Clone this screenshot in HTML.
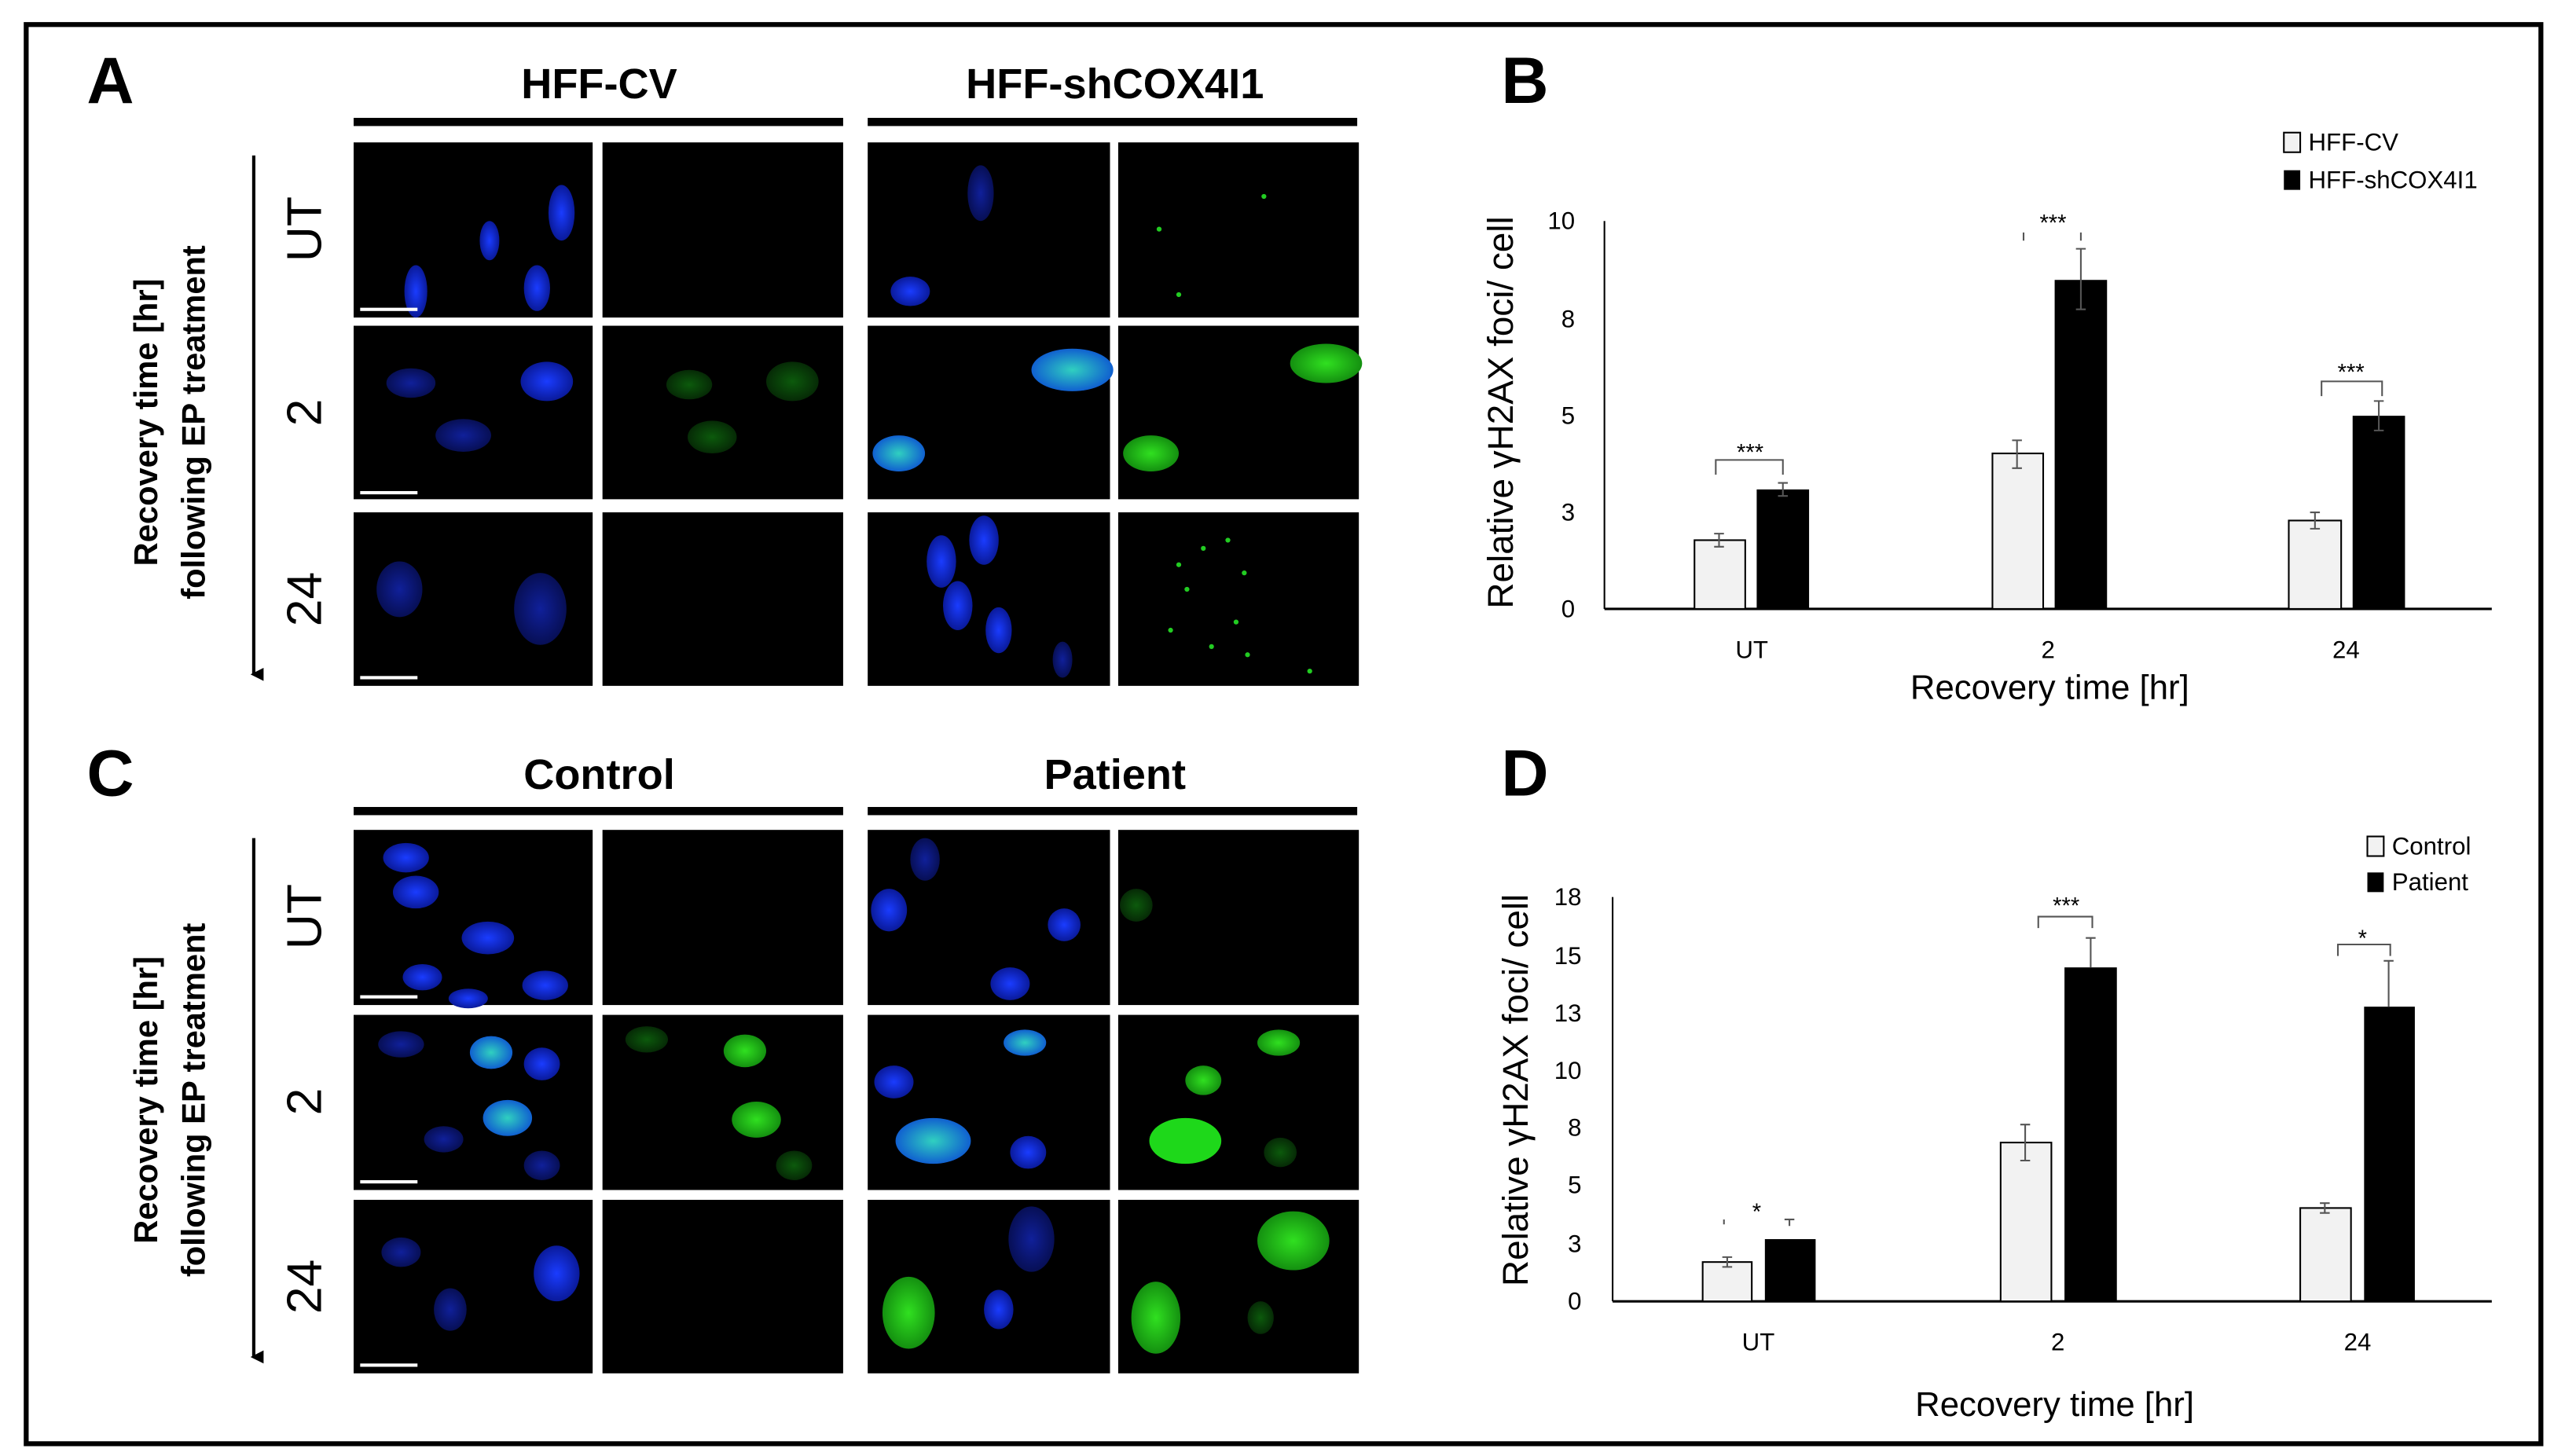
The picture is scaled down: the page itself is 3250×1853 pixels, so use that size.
<!DOCTYPE html>
<html><head><meta charset="utf-8"><style>
html,body{margin:0;padding:0;background:#fff;width:3250px;height:1853px;overflow:hidden}
svg{display:block}
text{font-family:"Liberation Sans",sans-serif}
</style></head><body>
<svg width="3250" height="1853" viewBox="0 0 1560 889.5" preserveAspectRatio="none" xmlns="http://www.w3.org/2000/svg">
<defs>
<radialGradient id="bl"><stop offset="0" stop-color="#1a3cff"/><stop offset="1" stop-color="#0a1a9a"/></radialGradient>
<radialGradient id="dbl"><stop offset="0" stop-color="#10209a"/><stop offset="1" stop-color="#070f55"/></radialGradient>
<radialGradient id="cy"><stop offset="0" stop-color="#30d0c0"/><stop offset="1" stop-color="#1060d0"/></radialGradient>
<radialGradient id="gr"><stop offset="0" stop-color="#30e020"/><stop offset="1" stop-color="#149010"/></radialGradient>
<radialGradient id="dgr"><stop offset="0" stop-color="#0c5a0c"/><stop offset="1" stop-color="#062a06"/></radialGradient>
<marker id="ah" markerWidth="8" markerHeight="8" refX="4" refY="6" orient="auto" markerUnits="userSpaceOnUse"><path d="M0,0 L8,0 L4,8 z" fill="#000"/></marker>
</defs>
<rect x="0" y="0" width="1560" height="890" fill="#fff"/>
<rect x="16" y="15" width="1536" height="867" fill="none" stroke="#000" stroke-width="3"/>

<!-- Letters -->
<g font-weight="bold" font-size="40">
<text x="53" y="63">A</text><text x="917" y="63">B</text>
<text x="53" y="486">C</text><text x="917" y="486">D</text>
</g>

<!-- Panel A headers -->
<g font-weight="bold" font-size="26" text-anchor="middle">
<text x="366" y="60">HFF-CV</text><text x="681" y="60">HFF-shCOX4I1</text>
<text x="366" y="482">Control</text><text x="681" y="482">Patient</text>
</g>
<rect x="216" y="72" width="299" height="5" fill="#000"/><rect x="530" y="72" width="299" height="5" fill="#000"/>
<rect x="216" y="493" width="299" height="5" fill="#000"/><rect x="530" y="493" width="299" height="5" fill="#000"/>

<!-- Image tiles -->
<g fill="#000">
<rect x="216" y="87" width="146" height="107"/><rect x="368" y="87" width="147" height="107"/><rect x="530" y="87" width="148" height="107"/><rect x="683" y="87" width="147" height="107"/>
<rect x="216" y="199" width="146" height="106"/><rect x="368" y="199" width="147" height="106"/><rect x="530" y="199" width="148" height="106"/><rect x="683" y="199" width="147" height="106"/>
<rect x="216" y="313" width="146" height="106"/><rect x="368" y="313" width="147" height="106"/><rect x="530" y="313" width="148" height="106"/><rect x="683" y="313" width="147" height="106"/>
<rect x="216" y="507" width="146" height="107"/><rect x="368" y="507" width="147" height="107"/><rect x="530" y="507" width="148" height="107"/><rect x="683" y="507" width="147" height="107"/>
<rect x="216" y="620" width="146" height="107"/><rect x="368" y="620" width="147" height="107"/><rect x="530" y="620" width="148" height="107"/><rect x="683" y="620" width="147" height="107"/>
<rect x="216" y="733" width="146" height="106"/><rect x="368" y="733" width="147" height="106"/><rect x="530" y="733" width="148" height="106"/><rect x="683" y="733" width="147" height="106"/>
</g>
<!-- A nuclei -->
<g>
<ellipse cx="343" cy="130" rx="8" ry="17" fill="url(#bl)"/>
<ellipse cx="299" cy="147" rx="6" ry="12" fill="url(#bl)"/>
<ellipse cx="328" cy="176" rx="8" ry="14" fill="url(#bl)"/>
<ellipse cx="254" cy="178" rx="7" ry="16" fill="url(#bl)"/>
<ellipse cx="599" cy="118" rx="8" ry="17" fill="url(#dbl)"/>
<ellipse cx="556" cy="178" rx="12" ry="9" fill="url(#bl)"/>
<ellipse cx="283" cy="266" rx="17" ry="10" fill="url(#dbl)"/>
<ellipse cx="334" cy="233" rx="16" ry="12" fill="url(#bl)"/>
<ellipse cx="251" cy="234" rx="15" ry="9" fill="url(#dbl)"/>
<ellipse cx="421" cy="235" rx="14" ry="9" fill="url(#dgr)"/>
<ellipse cx="484" cy="233" rx="16" ry="12" fill="url(#dgr)"/>
<ellipse cx="435" cy="267" rx="15" ry="10" fill="url(#dgr)"/>
<ellipse cx="655" cy="226" rx="25" ry="13" fill="url(#cy)"/>
<ellipse cx="549" cy="277" rx="16" ry="11" fill="url(#cy)"/>
<ellipse cx="810" cy="222" rx="22" ry="12" fill="url(#gr)"/>
<ellipse cx="703" cy="277" rx="17" ry="11" fill="url(#gr)"/>
<ellipse cx="244" cy="360" rx="14" ry="17" fill="url(#dbl)"/>
<ellipse cx="330" cy="372" rx="16" ry="22" fill="url(#dbl)"/>
<ellipse cx="575" cy="343" rx="9" ry="16" fill="url(#bl)"/>
<ellipse cx="601" cy="330" rx="9" ry="15" fill="url(#bl)"/>
<ellipse cx="585" cy="370" rx="9" ry="15" fill="url(#bl)"/>
<ellipse cx="610" cy="385" rx="8" ry="14" fill="url(#bl)"/>
<ellipse cx="649" cy="403" rx="6" ry="11" fill="url(#dbl)"/>
<g fill="#2c2">
<circle cx="720" cy="345" r="1.5"/><circle cx="735" cy="335" r="1.5"/><circle cx="750" cy="330" r="1.5"/><circle cx="760" cy="350" r="1.5"/><circle cx="715" cy="385" r="1.5"/><circle cx="740" cy="395" r="1.5"/><circle cx="755" cy="380" r="1.5"/><circle cx="800" cy="410" r="1.5"/><circle cx="725" cy="360" r="1.5"/><circle cx="762" cy="400" r="1.5"/><circle cx="708" cy="140" r="1.5"/><circle cx="720" cy="180" r="1.5"/><circle cx="772" cy="120" r="1.5"/>
</g>
</g>
<!-- C nuclei -->
<g>
<ellipse cx="248" cy="524" rx="14" ry="9" fill="url(#bl)"/>
<ellipse cx="254" cy="545" rx="14" ry="10" fill="url(#bl)"/>
<ellipse cx="298" cy="573" rx="16" ry="10" fill="url(#bl)"/>
<ellipse cx="258" cy="597" rx="12" ry="8" fill="url(#bl)"/>
<ellipse cx="333" cy="602" rx="14" ry="9" fill="url(#bl)"/>
<ellipse cx="286" cy="610" rx="12" ry="6" fill="url(#bl)"/>
<ellipse cx="565" cy="525" rx="9" ry="13" fill="url(#dbl)"/>
<ellipse cx="543" cy="556" rx="11" ry="13" fill="url(#bl)"/>
<ellipse cx="650" cy="565" rx="10" ry="10" fill="url(#bl)"/>
<ellipse cx="617" cy="601" rx="12" ry="10" fill="url(#bl)"/>
<ellipse cx="694" cy="553" rx="10" ry="10" fill="url(#dgr)"/>
<ellipse cx="245" cy="638" rx="14" ry="8" fill="url(#dbl)"/>
<ellipse cx="300" cy="643" rx="13" ry="10" fill="url(#cy)"/>
<ellipse cx="331" cy="650" rx="11" ry="10" fill="url(#bl)"/>
<ellipse cx="310" cy="683" rx="15" ry="11" fill="url(#cy)"/>
<ellipse cx="271" cy="696" rx="12" ry="8" fill="url(#dbl)"/>
<ellipse cx="331" cy="712" rx="11" ry="9" fill="url(#dbl)"/>
<ellipse cx="395" cy="635" rx="13" ry="8" fill="url(#dgr)"/>
<ellipse cx="455" cy="642" rx="13" ry="10" fill="url(#gr)"/>
<ellipse cx="462" cy="684" rx="15" ry="11" fill="url(#gr)"/>
<ellipse cx="485" cy="712" rx="11" ry="9" fill="url(#dgr)"/>
<ellipse cx="546" cy="661" rx="12" ry="10" fill="url(#bl)"/>
<ellipse cx="626" cy="637" rx="13" ry="8" fill="url(#cy)"/>
<ellipse cx="570" cy="697" rx="23" ry="14" fill="url(#cy)"/>
<ellipse cx="628" cy="704" rx="11" ry="10" fill="url(#bl)"/>
<ellipse cx="781" cy="637" rx="13" ry="8" fill="url(#gr)"/>
<ellipse cx="735" cy="660" rx="11" ry="9" fill="url(#gr)"/>
<ellipse cx="724" cy="697" rx="22" ry="14" fill="#1ed81a"/>
<ellipse cx="782" cy="704" rx="10" ry="9" fill="url(#dgr)"/>
<ellipse cx="245" cy="765" rx="12" ry="9" fill="url(#dbl)"/>
<ellipse cx="275" cy="800" rx="10" ry="13" fill="url(#dbl)"/>
<ellipse cx="340" cy="778" rx="14" ry="17" fill="url(#bl)"/>
<ellipse cx="555" cy="802" rx="16" ry="22" fill="url(#gr)"/>
<ellipse cx="610" cy="800" rx="9" ry="12" fill="url(#bl)"/>
<ellipse cx="630" cy="757" rx="14" ry="20" fill="url(#dbl)"/>
<ellipse cx="790" cy="758" rx="22" ry="18" fill="url(#gr)"/>
<ellipse cx="706" cy="805" rx="15" ry="22" fill="url(#gr)"/>
<ellipse cx="770" cy="805" rx="8" ry="10" fill="url(#dgr)"/>
</g>
<!-- scale bars -->
<g fill="#fff">
<rect x="220" y="188" width="35" height="2"/><rect x="220" y="300" width="35" height="2"/><rect x="220" y="413" width="35" height="2"/>
<rect x="220" y="608" width="35" height="2"/><rect x="220" y="721" width="35" height="2"/><rect x="220" y="833" width="35" height="2"/>
</g>

<!-- Row labels -->
<g font-size="30" text-anchor="middle">
<text transform="translate(196,140) rotate(-90)">UT</text>
<text transform="translate(196,252) rotate(-90)">2</text>
<text transform="translate(196,366) rotate(-90)">24</text>
<text transform="translate(196,560) rotate(-90)">UT</text>
<text transform="translate(196,673) rotate(-90)">2</text>
<text transform="translate(196,786) rotate(-90)">24</text>
</g>
<g font-size="20" font-weight="bold" text-anchor="middle">
<text transform="translate(96,258) rotate(-90)">Recovery time [hr]</text>
<text transform="translate(125,258) rotate(-90)">following EP treatment</text>
<text transform="translate(96,672) rotate(-90)">Recovery time [hr]</text>
<text transform="translate(125,672) rotate(-90)">following EP treatment</text>
</g>
<line x1="155" y1="95" x2="155" y2="412" stroke="#000" stroke-width="2" marker-end="url(#ah)"/>
<line x1="155" y1="512" x2="155" y2="829" stroke="#000" stroke-width="2" marker-end="url(#ah)"/>

<!-- Chart B -->
<g>
<line x1="980" y1="135" x2="980" y2="372" stroke="#000" stroke-width="1"/>
<line x1="980" y1="372" x2="1522" y2="372" stroke="#000" stroke-width="1.5"/>
<g font-size="15" text-anchor="end">
<text x="962" y="140">10</text><text x="962" y="200">8</text><text x="962" y="259">5</text><text x="962" y="318">3</text><text x="962" y="377">0</text>
</g>
<g stroke="#000" stroke-width="1">
<rect x="1035" y="330" width="31" height="42" fill="#f2f2f2"/>
<rect x="1217" y="277" width="31" height="95" fill="#f2f2f2"/>
<rect x="1398" y="318" width="32" height="54" fill="#f2f2f2"/>
</g>
<rect x="1073" y="299" width="32" height="73" fill="#000"/>
<rect x="1255" y="171" width="32" height="201" fill="#000"/>
<rect x="1437" y="254" width="32" height="118" fill="#000"/>
<g stroke="#555" stroke-width="1" fill="none">
<path d="M1050,326v8M1047,326h6M1047,334h6"/>
<path d="M1089,295v8M1086,295h6M1086,303h6"/>
<path d="M1232,269v17M1229,269h6M1229,286h6"/>
<path d="M1271,152v37M1268,152h6M1268,189h6"/>
<path d="M1414,313v10M1411,313h6M1411,323h6"/>
<path d="M1453,245v18M1450,245h6M1450,263h6"/>
<path d="M1048,290v-9h41v9"/>
<path d="M1236,147v-5M1271,147v-5"/>
<path d="M1418,242v-9h37v9"/>
</g>
<g font-size="14" text-anchor="middle">
<text x="1069" y="281">***</text><text x="1254" y="141">***</text><text x="1436" y="232">***</text>
</g>
<g font-size="15" text-anchor="middle">
<text x="1070" y="402">UT</text><text x="1251" y="402">2</text><text x="1433" y="402">24</text>
</g>
<text x="1252" y="427" font-size="21" text-anchor="middle">Recovery time [hr]</text>
<text transform="translate(924,252) rotate(-90)" font-size="22" text-anchor="middle">Relative γH2AX foci/ cell</text>
<rect x="1395" y="81" width="10" height="12" fill="#f2f2f2" stroke="#000" stroke-width="1"/>
<rect x="1395" y="104" width="10" height="12" fill="#000"/>
<text x="1410" y="92" font-size="15">HFF-CV</text>
<text x="1410" y="115" font-size="15">HFF-shCOX4I1</text>
</g>

<!-- Chart D -->
<g>
<line x1="985" y1="548" x2="985" y2="795" stroke="#000" stroke-width="1"/>
<line x1="985" y1="795" x2="1522" y2="795" stroke="#000" stroke-width="1.5"/>
<g font-size="15" text-anchor="end">
<text x="966" y="553">18</text><text x="966" y="589">15</text><text x="966" y="624">13</text><text x="966" y="659">10</text><text x="966" y="694">8</text><text x="966" y="729">5</text><text x="966" y="765">3</text><text x="966" y="800">0</text>
</g>
<g stroke="#000" stroke-width="1">
<rect x="1040" y="771" width="30" height="24" fill="#f2f2f2"/>
<rect x="1222" y="698" width="31" height="97" fill="#f2f2f2"/>
<rect x="1405" y="738" width="31" height="57" fill="#f2f2f2"/>
</g>
<rect x="1078" y="757" width="31" height="38" fill="#000"/>
<rect x="1261" y="591" width="32" height="204" fill="#000"/>
<rect x="1444" y="615" width="31" height="180" fill="#000"/>
<g stroke="#555" stroke-width="1" fill="none">
<path d="M1055,768v6M1052,768h6M1052,774h6"/>
<path d="M1093,745v4M1090,745h6"/>
<path d="M1237,687v22M1234,687h6M1234,709h6"/>
<path d="M1277,573v18M1274,573h6"/>
<path d="M1420,735v6M1417,735h6M1417,741h6"/>
<path d="M1459,587v28M1456,587h6"/>
<path d="M1053,748v-3"/>
<path d="M1245,567v-7h33v7"/>
<path d="M1428,584v-7h32v7"/>
</g>
<g font-size="14" text-anchor="middle">
<text x="1073" y="745">*</text><text x="1262" y="558">***</text><text x="1443" y="578">*</text>
</g>
<g font-size="15" text-anchor="middle">
<text x="1074" y="825">UT</text><text x="1257" y="825">2</text><text x="1440" y="825">24</text>
</g>
<text x="1255" y="865" font-size="21" text-anchor="middle">Recovery time [hr]</text>
<text transform="translate(933,666) rotate(-90)" font-size="22" text-anchor="middle">Relative γH2AX foci/ cell</text>
<rect x="1446" y="511" width="10" height="12" fill="#f2f2f2" stroke="#000" stroke-width="1"/>
<rect x="1446" y="533" width="10" height="12" fill="#000"/>
<text x="1461" y="522" font-size="15">Control</text>
<text x="1461" y="544" font-size="15">Patient</text>
</g>
</svg>
</body></html>
